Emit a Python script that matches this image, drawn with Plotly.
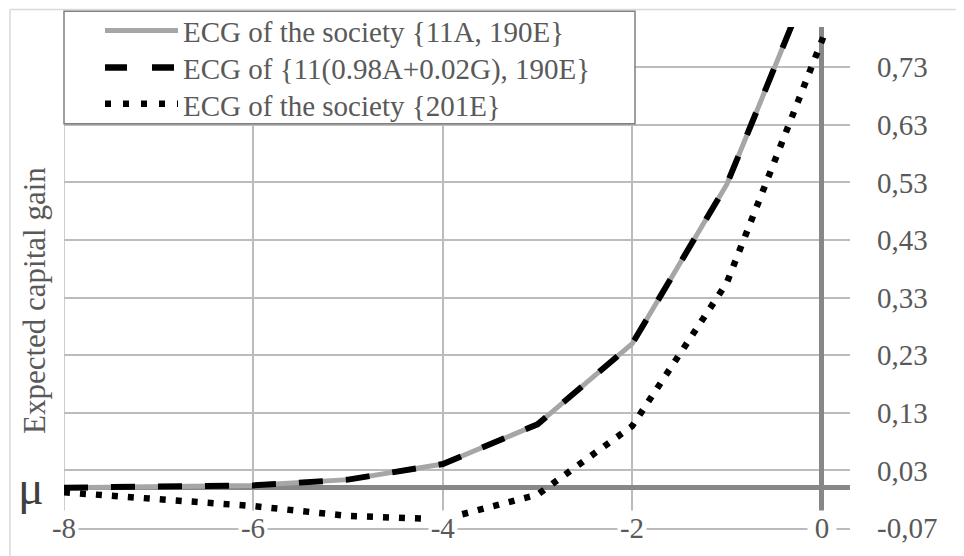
import plotly.graph_objects as go

# values
x_steps = [-8, -7, -6, -5, -4, -3, -2, -1, 0]
ecg_11a = [0.000, 0.001, 0.004, 0.014, 0.041, 0.110, 0.250, 0.527, 0.930]
ecg_mixed = [0.000, 0.001, 0.004, 0.014, 0.041, 0.110, 0.250, 0.527, 0.930]
x_201e = [-8, -7, -6, -5, -4, -3, -2, -1, 0, 0.05]
ecg_201e = [-0.008, -0.021, -0.032, -0.049, -0.055, -0.012, 0.107, 0.356, 0.770, 0.796]

x_ticks = [-8, -6, -4, -2, 0]
y_ticks = [-0.07, 0.03, 0.13, 0.23, 0.33, 0.43, 0.53, 0.63, 0.73]
y_ticktext = ["-0,07", "0,03", "0,13", "0,23", "0,33", "0,43", "0,53", "0,63", "0,73"]

names = ["ECG of the society {11A, 190E}",
         "ECG of {11(0.98A+0.02G), 190E}",
         "ECG of the society {201E}"]

FONT = "Liberation Serif, Times New Roman, serif"
TXT = "#595959"
GRID = "#bcbcbc"
AXIS = "#878787"

# the page body has an 8px margin, so the figure is drawn 8px in from the corner
W, H = 956, 548
L, R, T, B = 56, 114, 19, 17
PW, PH = W - L - R, H - T - B
SX0, SY1 = 64, 539  # plot area corner in window pixels


def px(x):
    return (x - SX0) / PW


def py(y):
    return (SY1 - y) / PH


fig = go.Figure()
fig.add_trace(go.Scatter(x=x_steps, y=ecg_11a, mode="lines", name=names[0],
                         line=dict(color="#a6a6a6", width=5), showlegend=False))
fig.add_trace(go.Scatter(x=x_steps, y=ecg_mixed, mode="lines", name=names[1],
                         line=dict(color="black", width=6, dash="24px,23px"), showlegend=False))
fig.add_trace(go.Scatter(x=x_201e, y=ecg_201e, mode="lines", name=names[2],
                         line=dict(color="black", width=6.5, dash="6px,10px"), showlegend=False))

shapes = [
    # outer chart border (left and top edges)
    dict(type="line", xref="paper", yref="paper", x0=px(10), x1=px(10), y0=py(9), y1=-0.2,
         line=dict(color="#d9d9d9", width=1.5)),
    dict(type="line", xref="paper", yref="paper", x0=px(10), x1=1.3, y0=py(9), y1=py(9),
         line=dict(color="#d9d9d9", width=1.5)),
    # left gridline at the range edge
    dict(type="line", xref="x", yref="paper", x0=x_ticks[0], x1=x_ticks[0], y0=0, y1=1,
         line=dict(color=GRID, width=1.5), layer="below"),
    # legend box
    dict(type="rect", xref="paper", yref="paper", x0=px(64), x1=px(635), y0=py(126), y1=py(11),
         fillcolor="white", line=dict(color="#7f7f7f", width=1.5), layer="above"),
]
legend_rows = [32.5, 70.5, 107.5]
legend_lines = [dict(color="#a6a6a6", width=5),
                dict(color="black", width=6.5, dash="22px,25px"),
                dict(color="black", width=6.5, dash="6px,12px")]
for ry, ln in zip(legend_rows, legend_lines):
    shapes.append(dict(type="line", xref="paper", yref="paper", x0=px(105), x1=px(178),
                       y0=py(ry - 2), y1=py(ry - 2), line=ln, layer="above"))

annotations = []
for ry, name in zip(legend_rows, names):
    annotations.append(dict(xref="paper", yref="paper", x=px(181), y=py(ry), text=name,
                            showarrow=False, xanchor="left", yanchor="middle",
                            font=dict(family=FONT, size=29, color=TXT)))

# x tick labels sit on the bottom line with a white box, like the original
for xv in x_ticks:
    annotations.append(dict(xref="x", yref="y", x=xv, y=y_ticks[0], text=str(xv),
                            showarrow=False, xanchor="center", yanchor="middle",
                            width=28, height=34, bgcolor="white", borderpad=0,
                            font=dict(family=FONT, size=29, color=TXT)))

annotations.append(dict(xref="paper", yref="paper", x=px(35), y=py(307),
                        text="Expected capital gain", textangle=-90, showarrow=False,
                        xanchor="center", yanchor="middle",
                        font=dict(family=FONT, size=31, color=TXT)))
annotations.append(dict(xref="paper", yref="y", x=px(31), y=0, text="μ", showarrow=False,
                        xanchor="center", yanchor="middle",
                        font=dict(family=FONT, size=48, color="#404040")))

fig.update_layout(
    width=W, height=H,
    margin=dict(l=L, r=R, t=T, b=B),
    paper_bgcolor="white", plot_bgcolor="white",
    shapes=shapes, annotations=annotations,
    xaxis=dict(range=[-8, 0.3], tickvals=x_ticks, showticklabels=False, ticks="",
               showgrid=True, gridcolor=GRID, gridwidth=1.5,
               zeroline=True, zerolinecolor=AXIS, zerolinewidth=5,
               showline=True, linecolor=GRID, linewidth=1.5),
    yaxis=dict(range=[-0.07, 0.80], side="right", tickvals=y_ticks, ticktext=y_ticktext,
               ticks="", ticklabelstandoff=26,
               tickfont=dict(family=FONT, size=29, color=TXT),
               showgrid=True, gridcolor=GRID, gridwidth=1.5,
               zeroline=True, zerolinecolor=AXIS, zerolinewidth=5,
               showline=False),
)

fig.write_html("out.html")
